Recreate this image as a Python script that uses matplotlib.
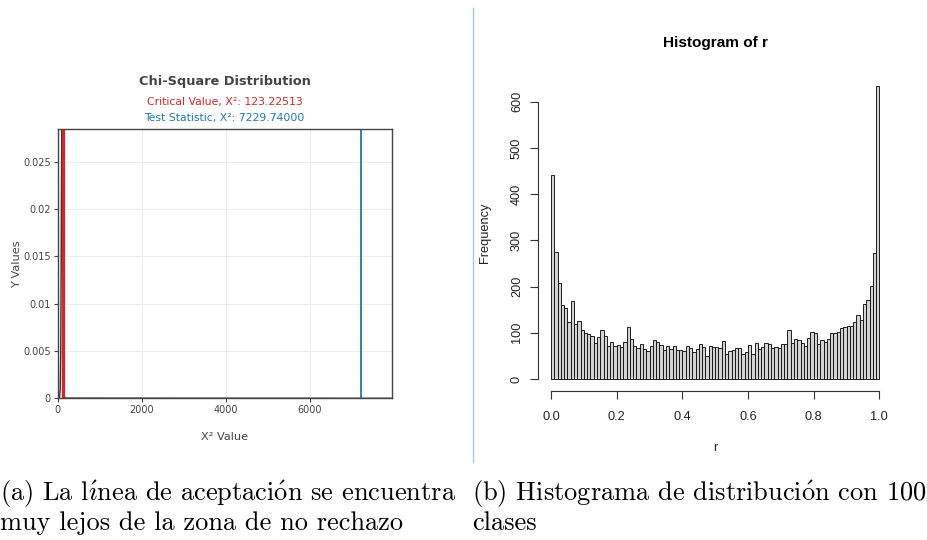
import numpy as np
import matplotlib.pyplot as plt
from matplotlib.lines import Line2D

W, H = 927, 540

# left panel: chi-square test
critical_value = 123.22513
test_statistic = 7229.74
x_ticks = [0, 2000, 4000, 6000]
y_ticks = [0, 0.005, 0.01, 0.015, 0.02, 0.025]
# density curve, points (df = 99)
curve_x = [0, 40, 60, 72, 82, 90, 97, 104, 112, 122, 135, 150, 170, 7950]
curve_y = [0, 0.00001, 0.0009, 0.0048, 0.0140, 0.0230, 0.0284, 0.0262, 0.0190, 0.0094, 0.0025, 0.0004, 0.00002, 0]

# right panel: histogram of r, 100 classes
freq = [441, 275, 208, 161, 153, 124, 169, 118, 126, 105, 100, 97, 93, 77, 90, 106, 92, 71, 81, 71, 73, 69, 79, 113, 86,
        71, 67, 75, 65, 61, 71, 84, 81, 73, 62, 71, 65, 71, 63, 63, 61, 71, 66, 59, 64, 75, 69, 49, 71, 69,
        69, 66, 82, 55, 61, 63, 68, 66, 55, 58, 73, 53, 77, 64, 69, 77, 75, 66, 70, 68, 75, 75, 105, 77, 86,
        84, 77, 71, 88, 102, 100, 75, 84, 79, 86, 100, 100, 102, 110, 112, 115, 115, 123, 138, 128, 162, 170, 202, 272, 634]
hist_xticks = [0.0, 0.2, 0.4, 0.6, 0.8, 1.0]
hist_yticks = [0, 100, 200, 300, 400, 500, 600]

# accents through mathtext so they stay in Computer Modern
caption_a = [r"(a) La l$\mathrm{\acute{\imath}}$nea de aceptaci$\mathrm{\acute{o}}$n se encuentra",
             "muy lejos de la zona de no rechazo"]
caption_b = [r"(b) Histograma de distribuci$\mathrm{\acute{o}}$n con 100", "clases"]

plt.rcParams['mathtext.fontset'] = 'cm'
plt.rcParams['axes.formatter.use_mathtext'] = True


def box(l, t, r, b):
    return [l / W, 1 - b / H, (r - l) / W, (b - t) / H]


fig = plt.figure(figsize=(W / 100, H / 100), dpi=100)
fig.patch.set_facecolor('white')

# ---- left: plotly-like chart ----
ax = fig.add_axes(box(57.7, 129.3, 391.7, 398.3))
gray = '#444444'
ax.set_xlim(0, 7952)
ax.set_ylim(0, 0.02843)
ax.set_xticks(x_ticks)
ax.set_xticklabels([str(v) for v in x_ticks])
ax.set_yticks(y_ticks)
ax.set_yticklabels(['0', '0.005', '0.01', '0.015', '0.02', '0.025'])
ax.grid(True, color='#eeeeee', lw=0.8)
ax.set_axisbelow(True)
for s in ax.spines.values():
    s.set_color(gray)
    s.set_linewidth(1.0)
ax.tick_params(colors=gray, labelsize=7, length=3, width=0.8, pad=2)
ax.plot(curve_x, curve_y, color='#333333', lw=1.0)
ax.axvline(critical_value, color='#d62728', lw=2.4)
ax.axvline(test_statistic, color='#1f77b4', lw=1.3)
ax.set_xlabel('X² Value', color=gray, fontsize=8.1, labelpad=12)
ax.set_ylabel('Y Values', color=gray, fontsize=8.2)
ax.yaxis.set_label_coords(-0.107, 0.5)
cx = (57.7 + 391.7) / 2 / W
fig.text(cx, 1 - 82 / H, 'Chi-Square Distribution', ha='center', va='center',
         fontsize=9.3, fontweight='bold', color=gray)
fig.text(cx, 1 - 102 / H, 'Critical Value, X²: %.5f' % critical_value, ha='center', va='center',
         fontsize=7.85, color='#d62728')
fig.text(cx, 1 - 118 / H, 'Test Statistic, X²: %.5f' % test_statistic, ha='center', va='center',
         fontsize=7.85, color='#1f77b4')

# ---- right: R-like histogram ----
ax2 = fig.add_axes(box(537.9, 74.2, 892.5, 390.7))
edges = np.linspace(0, 1, len(freq) + 1)
ax2.bar(edges[:-1], freq, width=edges[1] - edges[0], align='edge',
        color='#d3d3d3', edgecolor='#111111', linewidth=0.65)
ax2.set_xlim(-0.04, 1.04)
ax2.set_ylim(-0.04 * max(freq), 1.04 * max(freq))
for side in ['top', 'right']:
    ax2.spines[side].set_visible(False)
ax2.spines['left'].set_bounds(0, 600)
ax2.spines['bottom'].set_bounds(0, 1)
for side in ['left', 'bottom']:
    ax2.spines[side].set_color('#333333')
    ax2.spines[side].set_linewidth(0.8)
ax2.set_xticks(hist_xticks)
ax2.set_xticklabels(['%.1f' % v for v in hist_xticks])
ax2.set_yticks(hist_yticks)
ax2.set_yticklabels([str(v) for v in hist_yticks], rotation=90, va='center')
rfont = 'Liberation Sans'
for lab in ax2.get_xticklabels() + ax2.get_yticklabels():
    lab.set_fontfamily(rfont)
ax2.tick_params(labelsize=9.2, length=5.8, width=0.8, color='#333333', labelcolor='#222222')
ax2.tick_params(axis='x', pad=8.5)
ax2.tick_params(axis='y', pad=5)
ax2.set_xlabel('r', fontsize=9.2, family=rfont, color='#222222', labelpad=14)
ax2.set_ylabel('Frequency', fontsize=9.2, family=rfont, color='#222222', labelpad=14)
ax2.set_title('Histogram of r', fontsize=11.1, fontweight='bold', family=rfont, pad=19.5)

# divider between the two panels
fig.add_artist(Line2D([472.5 / W] * 2, [1 - 8 / H, 1 - 462 / H], color='#a4c6e8', lw=1.0))

# captions
cap_font = 'cmr10'
for i, line in enumerate(caption_a):
    fig.text(0.0, 1 - (501 + 29 * i) / H, line, ha='left', va='baseline',
             fontsize=19.0, family=cap_font)
for i, line in enumerate(caption_b):
    fig.text(472 / W, 1 - (501 + 29 * i) / H, line, ha='left', va='baseline',
             fontsize=19.0, family=cap_font)

fig.savefig('out.png', dpi=100)
